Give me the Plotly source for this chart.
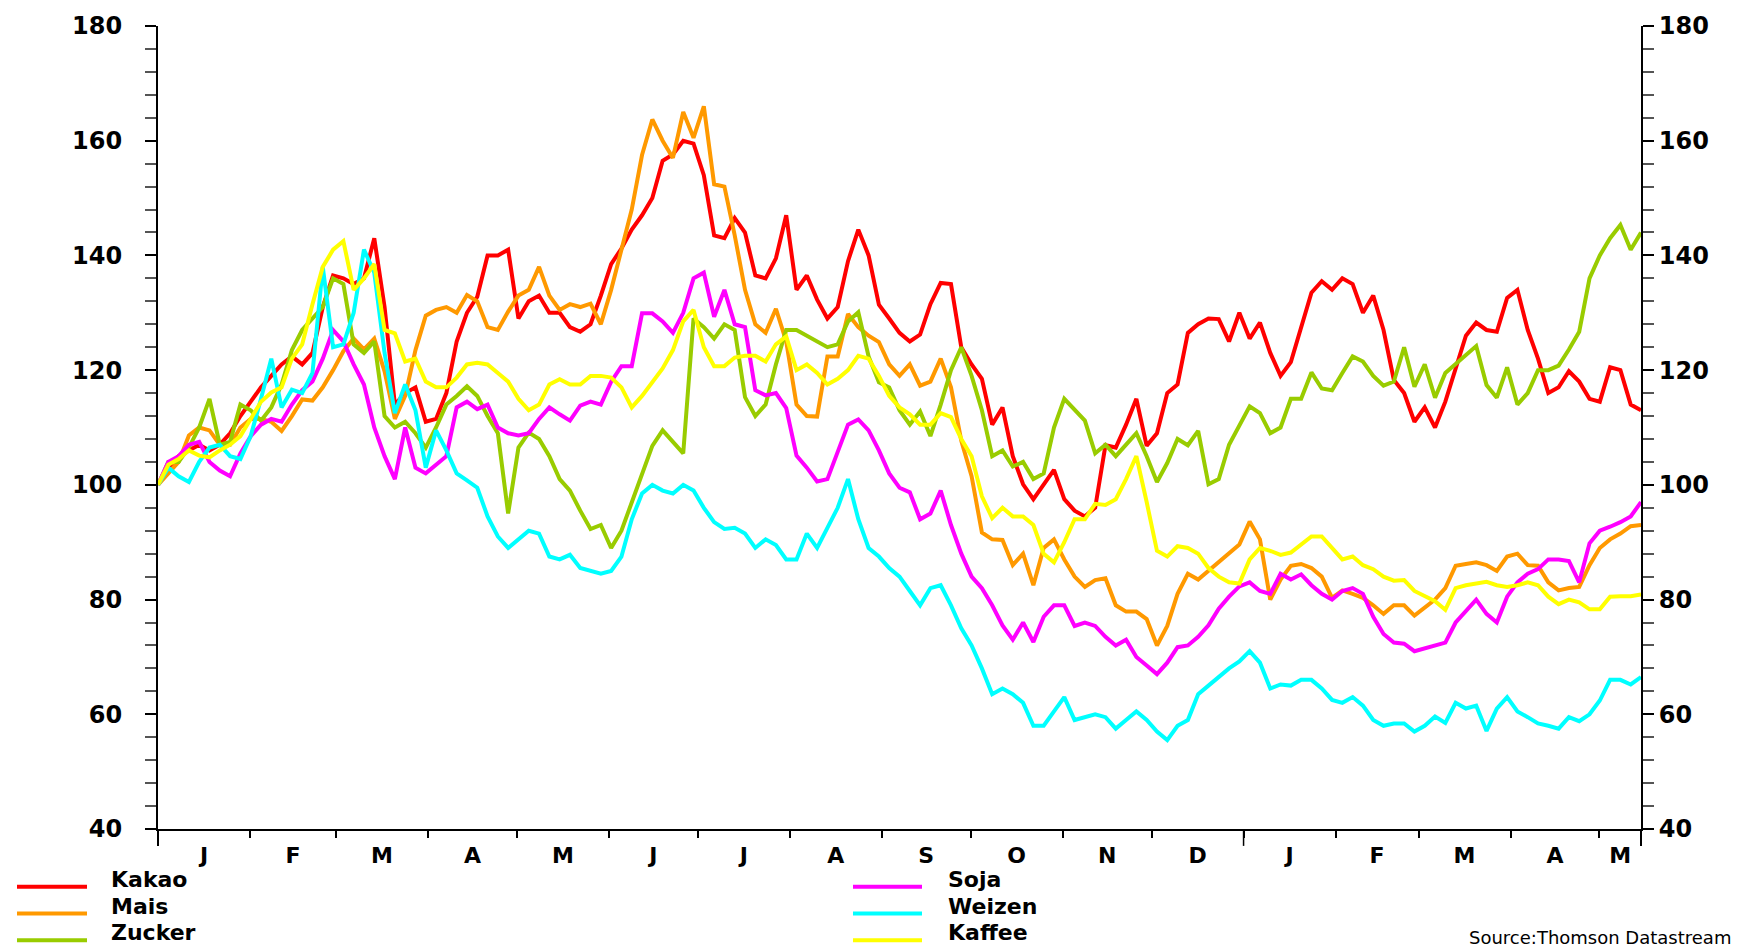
import pandas as pd
import plotly.graph_objects as go

# twice-weekly readings, 1 Jan 2008 .. 15 May 2009, index 100 at start
start = "2008-01-01"
end = "2009-05-15"
dates = pd.date_range(start, end, periods=145)

kakao = [100, 103, 105, 106, 107, 106, 107, 109, 112, 114.5,
         117, 119, 121, 122.4, 121, 123, 131, 136.5, 136, 135,
         136, 143, 131, 114, 116, 117, 111, 111.5, 116, 125,
         130, 132.8, 140, 140, 141, 129, 132, 133, 130, 130,
         127.5, 126.7, 128, 133, 138.5, 141.2, 144.5, 147, 150, 156.5,
         157.6, 160, 159.5, 154, 143.5, 143, 146.5, 144, 136.5, 136,
         139.5, 147, 134, 136.5, 132.3, 129, 131, 139, 144.5, 140,
         131.4, 129, 126.5, 125, 126.2, 131.5, 135.2, 135, 124, 121,
         118.5, 110.5, 113.5, 105, 100.1, 97.5, 100, 102.6, 97.5, 95.5,
         94.5, 96, 106.9, 106.5, 110.5, 115, 106.8, 109, 116, 117.5,
         126.5, 128, 129, 128.9, 125, 130, 125.5, 128.3, 123, 119,
         121.4, 127.6, 133.5, 135.5, 134, 136, 135, 130, 133, 127,
         118.3, 116, 111, 113.5, 110, 114.5, 120, 126, 128.3, 127,
         126.7, 132.6, 134, 127, 122, 116, 117, 119.8, 118, 115,
         114.5, 120.5, 120, 114, 113]
mais = [100, 102, 104, 108.6, 110, 109.5, 107, 107, 110, 111.5,
        111.5, 111, 109.4, 112, 114.9, 114.7, 117, 120, 123.3, 125.5,
        123.6, 125.5, 119.8, 111.5, 115.5, 123.5, 129.5, 130.5, 131, 130,
        133.1, 132, 127.5, 127, 130.2, 133, 134, 138, 133, 130.5,
        131.5, 131, 131.6, 128, 134, 141, 148, 157.5, 163.7, 160,
        157, 165, 160.5, 166, 152.4, 152, 143.5, 134, 128, 126.5,
        130.7, 125, 114, 112, 111.9, 122.4, 122.4, 129.8, 127.5, 126,
        124.9, 121, 119, 121, 117.3, 118, 122, 117, 107.7, 101.5,
        91.7, 90.5, 90.4, 86, 88, 82.5, 89, 90.5, 87, 84,
        82.2, 83.4, 83.7, 79, 77.9, 77.9, 76.6, 72, 75.4, 81,
        84.5, 83.5, 85, 86.5, 88, 89.6, 93.6, 90.5, 80, 83.5,
        85.9, 86.2, 85.5, 84, 80.3, 81.6, 81, 80.3, 79, 77.5,
        79, 79, 77.2, 78.5, 80, 82, 85.9, 86.2, 86.5, 86,
        85, 87.5, 88, 86, 85.9, 83, 81.6, 82, 82.2, 86,
        89, 90.5, 91.5, 92.8, 93]
zucker = [100, 104, 104, 106.5, 110, 115, 107, 107.5, 114, 113,
          111.2, 113.5, 117.5, 123.5, 127, 129, 131, 136, 135, 124.5,
          123, 125, 112, 110, 111, 109, 106.5, 110, 114, 115.5,
          117.2, 115.5, 112, 109, 95, 106.5, 109.1, 108, 105, 101,
          99, 95.5, 92.3, 93, 89, 92, 97, 101.5, 106.8, 109.5,
          107.5, 105.5, 129, 127.5, 125.5, 128, 127, 115.3, 112, 114,
          121, 127, 127, 126, 125, 124, 124.5, 128.5, 130.1, 122.4,
          117.9, 117, 113, 110.5, 112.8, 108.5, 114, 120, 124, 119,
          113, 105, 106, 103.2, 104, 101, 102, 110, 115, 113,
          111.2, 105.5, 107, 105, 106.9, 109, 105, 100.5, 103.8, 108,
          106.9, 109.4, 100.1, 101, 107, 110.5, 113.7, 112.5, 109, 110,
          115, 115, 119.6, 116.8, 116.5, 119.5, 122.4, 121.5, 119, 117.3,
          118, 124, 117.1, 121, 115.2, 119.5, 121.1, 122.5, 124.2, 117.4,
          115.2, 120.5, 114, 116, 120, 120, 120.8, 123.6, 126.7, 136,
          140, 143, 145.3, 141, 144]
soja = [100, 104, 105, 107, 107.5, 104, 102.5, 101.5, 105.5, 108.5,
        110.5, 111.5, 111, 114, 116.5, 118, 122, 127, 125, 121,
        117.5, 110, 105, 101, 110, 103, 102, 103.6, 105, 113.5,
        114.5, 113.2, 114, 110, 109, 108.6, 109, 111.5, 113.5, 112.3,
        111.2, 113.8, 114.5, 114, 118, 120.7, 120.7, 129.9, 129.9, 128.5,
        126.5, 130, 136, 137, 129.3, 134, 128, 127.5, 116.5, 115.6,
        116, 113.4, 105.1, 103, 100.6, 101, 106, 110.5, 111.4, 109.5,
        106, 102, 99.5, 98.7, 94, 95, 99, 93, 88, 84,
        82, 79, 75.5, 73, 76, 72.6, 77, 79, 79, 75.4,
        76, 75.4, 73.5, 72, 73, 70, 68.5, 67, 69, 71.7,
        72, 73.5, 75.5, 78.4, 80.5, 82.3, 83, 81.5, 81, 84.5,
        83.5, 84.4, 82.5, 81, 80, 81.5, 82, 81, 77, 74,
        72.5, 72.3, 71, 71.5, 72, 72.5, 76, 78, 80, 77.5,
        76, 80.5, 83, 84.5, 85.3, 87, 87, 86.7, 83, 89.8,
        92, 92.7, 93.5, 94.5, 97]
weizen = [100, 103, 101.5, 100.5, 104, 106.5, 107, 105, 104.5, 108.5,
          115, 122, 113.5, 116.6, 116, 119.5, 138, 124, 124.5, 130,
          141, 137, 123, 112.5, 117.5, 113, 103, 109.5, 106, 102,
          100.8, 99.5, 94.5, 91, 89, 90.5, 92, 91.5, 87.5, 87,
          87.8, 85.5, 85, 84.5, 85, 87.5, 94, 98.5, 100, 99,
          98.5, 100, 99, 96, 93.5, 92.3, 92.5, 91.5, 89, 90.5,
          89.5, 87, 87, 91.5, 89, 92.5, 96, 101, 94, 89,
          87.5, 85.5, 84, 81.5, 79, 82, 82.5, 79, 75, 72,
          68, 63.5, 64.5, 63.5, 62, 58, 58, 60.5, 63, 59,
          59.5, 60, 59.5, 57.5, 59, 60.5, 59, 57, 55.5, 58,
          59, 63.5, 65, 66.5, 68, 69.2, 71, 69, 64.5, 65.2,
          65, 66, 66, 64.5, 62.5, 62, 63, 61.5, 59, 58,
          58.4, 58.4, 57, 58, 59.6, 58.5, 62, 61, 61.5, 57.1,
          61, 63, 60.5, 59.5, 58.4, 58, 57.5, 59.5, 58.8, 60,
          62.4, 66, 66, 65.2, 66.5]
kaffee = [100, 103.5, 104.5, 106, 105.1, 104.8, 106, 107, 108.5, 111.5,
          114.5, 116.1, 117, 122, 124.5, 131.5, 138, 141, 142.5, 134,
          136, 138.5, 127, 126.4, 121.5, 122, 118, 117, 117, 118.7,
          121, 121.3, 121, 119.5, 118, 115, 113, 114, 117.5, 118.4,
          117.5, 117.5, 119, 119, 118.7, 117, 113.5, 115.5, 118, 120.3,
          123.5, 128.5, 130.5, 124, 120.7, 120.7, 122.2, 122.5, 122.5, 121.5,
          124.5, 125.9, 120, 121, 119.5, 117.5, 118.5, 120, 122.5, 122,
          119, 115.5, 113.5, 112.3, 110.5, 110.5, 112.5, 111.8, 108, 105,
          98, 94.2, 96, 94.5, 94.5, 93, 88, 86.5, 90, 94,
          94, 96.7, 96.5, 97.5, 101, 105, 97, 88.5, 87.5, 89.3,
          89, 88, 85.5, 84, 83, 82.8, 87, 89, 88.5, 87.8,
          88.2, 89.5, 91, 91, 89, 87, 87.5, 86, 85.3, 84,
          83.3, 83.4, 81.5, 80.5, 79.7, 78.2, 82, 82.5, 82.8, 83.1,
          82.5, 82.2, 82.5, 83, 82.5, 80.5, 79.2, 80, 79.5, 78.3,
          78.3, 80.5, 80.6, 80.6, 80.9]

names = ["Kakao", "Mais", "Zucker", "Soja", "Weizen", "Kaffee"]
colors = ["#FF0000", "#FF9900", "#99CC00", "#FF00FF", "#00FFFF", "#FFFF00"]
series = [kakao, mais, zucker, soja, weizen, kaffee]
for s in series:
    assert len(s) == len(dates)

month_letters = ["J", "F", "M", "A", "M", "J", "J", "A", "S", "O", "N", "D",
                 "J", "F", "M", "A", "M"]
y_ticks = [40, 60, 80, 100, 120, 140, 160, 180]
source_text = "Source:Thomson Datastream"

# month boundaries and label positions (middle of the visible part of each month)
month_starts = pd.date_range("2008-01-01", "2009-05-01", freq="MS")
end_ts = pd.Timestamp(end)
label_pos = []
for m in month_starts:
    nxt = min(m + pd.offsets.MonthBegin(1), end_ts)
    label_pos.append(m + (nxt - m) / 2)

W, H = 1742, 947
L, R, T, B = 158, 1641, 21, 829


def px(x):
    return (x - L) / (R - L)


def py(y):
    return (B - y) / (B - T)


FONT = "DejaVu Sans"
bold = dict(family=FONT, size=24, color="black", weight="bold")

fig = go.Figure()
for i, (name, col, vals) in enumerate(zip(names, colors, series)):
    # last series goes on the right-hand axis so that axis gets drawn (same scale)
    fig.add_trace(go.Scatter(x=dates, y=vals, mode="lines", name=name,
                             yaxis="y2" if i == len(names) - 1 else "y",
                             line=dict(color=col, width=4), showlegend=False))

yax = dict(range=[40, 180], tickmode="array", tickvals=y_ticks,
           ticks="outside", ticklen=11, tickwidth=1.5, tickcolor="black",
           showline=True, linewidth=2, linecolor="black",
           showgrid=False, zeroline=False, tickfont=bold,
           minor=dict(tick0=40, dtick=4, ticks="outside", ticklen=11,
                      tickwidth=1.5, tickcolor="#555555", showgrid=False))

fig.update_layout(
    width=W, height=H,
    margin=dict(l=L, r=W - R, t=T, b=H - B),
    paper_bgcolor="white", plot_bgcolor="white",
    xaxis=dict(type="date", range=[dates[0], dates[-1]],
               showline=True, linewidth=2, linecolor="black",
               showgrid=False, zeroline=False,
               tickmode="array", tickvals=label_pos, ticktext=month_letters,
               ticks="", ticklabelstandoff=6,
               tickfont=dict(family=FONT, size=22, color="black", weight="bold"),
               minor=dict(tickmode="array", tickvals=list(month_starts),
                          ticks="outside", ticklen=7, tickwidth=1.5,
                          tickcolor="black", showgrid=False)),
    yaxis=dict(**yax, ticklabelstandoff=18),
    yaxis2=dict(**yax, overlaying="y", side="right", anchor="x",
                ticklabelstandoff=0),
)

# longer tick at the year change and axis stubs below the x axis
shapes = [
    dict(type="line", xref="x", yref="paper", x0="2009-01-01", x1="2009-01-01",
         y0=0, y1=py(846), line=dict(color="black", width=1.5)),
    dict(type="line", xref="paper", yref="paper", x0=0, x1=0, y0=0, y1=py(846),
         line=dict(color="black", width=2)),
    dict(type="line", xref="paper", yref="paper", x0=1, x1=1, y0=0, y1=py(846),
         line=dict(color="black", width=2)),
]
annotations = []

# legend drawn by hand: two columns of three
line_x = [(17, 87), (853, 922)]
text_x = [109, 946]
line_y = [887, 914, 941]
text_y = [880, 906.5, 933]
for i, (name, col) in enumerate(zip(names, colors)):
    c, r = divmod(i, 3)
    shapes.append(dict(type="line", xref="paper", yref="paper",
                       x0=px(line_x[c][0]), x1=px(line_x[c][1]),
                       y0=py(line_y[r]), y1=py(line_y[r]),
                       line=dict(color=col, width=4)))
    annotations.append(dict(text=name, xref="paper", yref="paper",
                            x=px(text_x[c]), y=py(text_y[r]),
                            xanchor="left", yanchor="middle", showarrow=False,
                            font=dict(family=FONT, size=22, color="black", weight="bold")))

annotations.append(dict(text=source_text, xref="paper", yref="paper",
                        x=px(1733), y=py(938), xanchor="right", yanchor="middle",
                        showarrow=False,
                        font=dict(family=FONT, size=18, color="black")))

fig.update_layout(shapes=shapes, annotations=annotations)

fig.write_html("out.html", config={"displayModeBar": False},
               post_script="document.body.style.margin='0';")
